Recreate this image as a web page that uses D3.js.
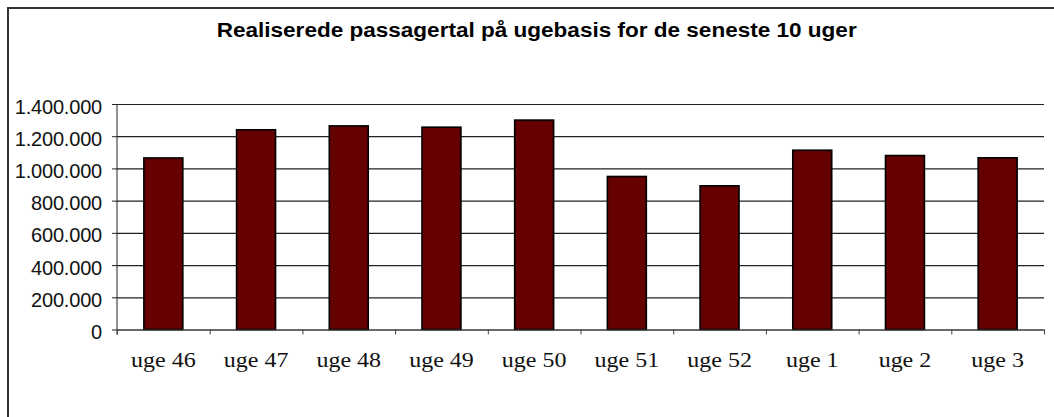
<!DOCTYPE html>
<html>
<head>
<meta charset="utf-8">
<script src="https://cdn.jsdelivr.net/npm/d3@7"></script>
<style>
  body { margin: 0; background: #fff; }
  svg { display: block; }
</style>
</head>
<body>
<div id="chart"></div>
<script>
// data
const weeks = ["uge 46", "uge 47", "uge 48", "uge 49", "uge 50", "uge 51", "uge 52", "uge 1", "uge 2", "uge 3"];
const passengers = [1065000, 1240000, 1264000, 1256000, 1300000, 950000, 892000, 1113000, 1080000, 1066000];
const yTicks = [0, 200000, 400000, 600000, 800000, 1000000, 1200000, 1400000];
const title = "Realiserede passagertal på ugebasis for de seneste 10 uger";

const W = 1054, H = 417;
var margin = { top: 104, right: 10, bottom: 87.5, left: 117 },
  width = 1044 - margin.left,
  height = 329.5 - margin.top;

const dk = d3.formatLocale({ decimal: ",", thousands: ".", grouping: [3], currency: ["", " kr"] });
const fmt = dk.format(",d");

var svg = d3.select("#chart").append("svg")
  .attr("width", W).attr("height", H);

// outer frame (only left and top edges fall inside the picture)
svg.append("path")
  .attr("d", "M8," + (H + 5) + "V8H" + (W + 5))
  .attr("fill", "none").attr("stroke", "#333").attr("stroke-width", 2);

svg.append("text")
  .attr("x", 536.7).attr("y", 36.5)
  .attr("text-anchor", "middle")
  .attr("font-family", "Liberation Sans, Arial, sans-serif")
  .attr("font-weight", "bold")
  .attr("font-size", 20)
  .attr("textLength", 640).attr("lengthAdjust", "spacingAndGlyphs")
  .text(title);

var g = svg.append("g").attr("transform", "translate(" + margin.left + "," + margin.top + ")");

var x = d3.scaleBand().domain(weeks).range([0, width]).paddingInner(0.58).paddingOuter(0.29);
var xb = d3.scaleLinear().domain([0, weeks.length]).range([0, width]);
var y = d3.scaleLinear().domain([0, 1400000]).range([height, 0]);

// gridlines
g.append("g")
  .call(d3.axisLeft(y).tickValues(yTicks).tickSize(-width).tickFormat(""))
  .call(s => s.select(".domain").remove())
  .call(s => s.selectAll("line").attr("stroke", "#222").attr("stroke-width", 1.2));

// bars
g.selectAll("rect.bar")
  .data(passengers)
  .enter().append("rect")
  .attr("class", "bar")
  .attr("x", (d, i) => x(weeks[i]))
  .attr("width", x.bandwidth())
  .attr("y", d => y(d))
  .attr("height", d => height - y(d))
  .attr("fill", "#640000")
  .attr("stroke", "#000")
  .attr("stroke-width", 1.6);

// y axis
g.append("g")
  .call(d3.axisLeft(y).tickValues(yTicks).tickSize(5).tickSizeOuter(0).tickPadding(10).tickFormat(fmt))
  .call(s => s.select(".domain").attr("stroke", "#222").attr("d", "M0,0V" + (height + 5)))
  .call(s => s.selectAll("line").attr("stroke", "#222"))
  .call(s => s.selectAll("text")
    .attr("font-family", "Liberation Sans, Arial, sans-serif")
    .attr("font-size", 20)
    .attr("letter-spacing", -0.2)
    .attr("fill", "#111")
    .attr("dy", "0.45em"));

// x axis: ticks at category boundaries
g.append("g")
  .attr("transform", "translate(0," + height + ")")
  .call(d3.axisBottom(xb).ticks(weeks.length).tickSize(5).tickSizeOuter(0).tickFormat(""))
  .call(s => s.select(".domain").attr("stroke", "#444"))
  .call(s => s.selectAll("line").attr("stroke", "#444"));

var xl = g.append("g")
  .attr("transform", "translate(0," + height + ")")
  .call(d3.axisBottom(x).tickSize(0).tickPadding(0));
xl.select(".domain").remove();
xl.selectAll("text")
  .attr("font-family", "Liberation Serif, Times New Roman, serif")
  .attr("font-size", 20.5)
  .attr("fill", "#111")
  .attr("y", 37)
  .attr("dy", 0)
  .each(function () {
    const len = this.getComputedTextLength();
    d3.select(this).attr("textLength", len * 1.17).attr("lengthAdjust", "spacingAndGlyphs");
  });
</script>
</body>
</html>
